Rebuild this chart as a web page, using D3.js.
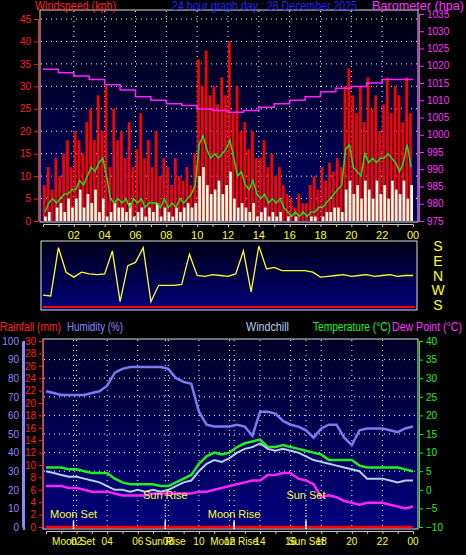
<!DOCTYPE html>
<html><head><meta charset="utf-8">
<script src="https://cdn.jsdelivr.net/npm/d3@7"></script>
<style>body{margin:0;background:#000}svg{display:block;font-family:"Liberation Sans",Arial,sans-serif}</style>
</head><body><div id="chart"></div>
<script>
// ---- data ----
const title = "24 hour graph day : 28 December 2025";
const hourLabels = ["02","04","06","08","10","12","14","16","18","20","22","00"];
// wind, 15-minute steps (96)
const gust = [8,12,7,14, 10,15,18,12, 20,18,15,22, 25,18,28,20, 30,12,25,18, 20,14,22,12,
  16,24,14,18, 12,20,10,14, 12,8,14,10, 9,12,8,15, 36,30,38,28, 30,26,32,28,
  40,24,30,20, 22,16,20,14, 14,18,12,15, 10,12,8,6, 5,3,6,4, 4,8,10,7,
  12,9,13,11, 14,12,30,34, 28,24,30,22, 32,25,28,20, 26,32,24,30, 28,22,32,24];
const windAvg = [2,4,5,4, 5,6,6,7, 7,9,8,10, 12,11,13,14, 10,5,4,5, 4,5,3,5, 4,5,3,4, 4,4,3,5,
  3,4,3,5, 4,5,6,8, 17,19,16,14, 15,14,15,16, 18,14,10,11, 8,7,9,6, 5,6,4,5, 4,5,3,2,
  1,2,1,2, 1,2,2,3, 3,4,5,6, 7,8,16,17, 12,11,10,15, 13,14,13,14, 14,15,14,13, 11,13,17,12];
const windLow = [1,2,0,3, 4,2,5,3, 5,7,3,6, 4,7,2,5, 1,2,4,3, 3,2,4,1, 2,3,1,3, 2,4,1,3,
  2,1,3,2, 3,4,3,4, 10,12,8,6, 7,9,6,8, 11,5,3,4, 3,2,4,1, 2,3,1,2, 1,2,0,1,
  0,1,0,0, 0,1,1,0, 1,2,2,3, 3,2,7,9, 6,8,5,9, 7,5,9,6, 8,5,9,7, 6,9,5,8];
// barometer, hourly (25)
const baro = [1019,1018,1017,1016,1014.5,1013,1011,1010,1009,1008.5,1007.5,1007,1006.5,1007,1008,1009,1010,1011,1012.5,1013.5,1014,1015,1016,1016,1016];
// wind direction bearing, 30-minute steps (49)
const windDir = [240,235,170,20,350,20,10,5,10,150,200,60,80,170,200,300,300,300,305,130,
  0,355,5,0,355,10,150,260,180,40,50,30,30,30,30,20,350,355,0,5,355,0,5,355,0,5,355,0,0];
// 30-minute steps (49)
const humidity = [73,72,71,71,71,71,72,73,76,83,85,86,86,86,86,86,85,80,78,77,62,55,54,54,54,55,54,49,62,62,
  61,57,55,54,52,48,53,55,55,48,44,52,53,53,53,52,51,53,54];
const temperature = [6,6,6,5.5,5.5,5,4.5,4.5,4.5,3,2,1.5,1.5,1.5,1.5,1,1,2,3,4,7,9,10,9.5,10,11.5,12.5,13,13.5,11.5,
  11.5,12,11.5,11,10.5,10,9.5,8,8,8,8,6.5,6,6,6,6,6,5.5,5];
const windchill = [5,4.5,4,3.5,3.5,3,2.5,2,1,0,0,-0.5,0,-0.5,0,-0.5,0,1,2,2.5,5,7,8,7.5,8.5,10,11,11.5,12.5,11,
  10.5,11,10.5,10,9,8,7.5,7,6.5,6,5.5,5,3,3,3,2.5,2,2.5,2.5];
const dewPoint = [1,1,1,0.5,0.5,0,-0.5,-0.5,-0.5,-1,-1.5,-1.5,-1.5,-1.5,-1,-1,-1,-1,-1,-1,-0.5,-0.5,0,0.5,1,1.5,2,2.5,2.5,4,
  4,4.5,4.5,3,2.5,1.5,-2,-1.5,-2,-3,-3.5,-4,-3.5,-3.5,-3.5,-4,-4.5,-5,-4.5];
const rainfall = [0,0];
const events = [{name:"Moon Set",h:1.8,row:1},{name:"Sun Rise",h:7.8,row:0},{name:"Moon Rise",h:12.3,row:1},{name:"Sun Set",h:17,row:0}];

const W = 466, H = 555;
const svg = d3.select("#chart").append("svg").attr("width", W).attr("height", H);
const defs = svg.append("defs");
function grad(id, c1, c2) {
  const g = defs.append("linearGradient").attr("id", id).attr("x1",0).attr("y1",0).attr("x2",0).attr("y2",1);
  g.append("stop").attr("offset","0%").attr("stop-color",c1);
  g.append("stop").attr("offset","100%").attr("stop-color",c2);
}
grad("gTop", "#000010", "#00006a");
grad("gDir", "#000018", "#00007a");
grad("gBot", "#000028", "#00007e");

function txt(x, y, s, col, anchor, size, len) {
  const t = svg.append("text").attr("x", x).attr("y", y).attr("fill", col)
    .attr("text-anchor", anchor || "start").attr("font-size", size || 11).text(s);
  if (len) t.attr("textLength", len).attr("lengthAdjust", "spacingAndGlyphs");
  return t;
}
function dotGrid(g, xs, ys, x0, x1, y0, y1) {
  g.selectAll(null).data(ys).enter().append("line").attr("x1", x0).attr("x2", x1)
    .attr("y1", d => d).attr("y2", d => d).attr("stroke", "#fff").attr("stroke-dasharray", "1,4");
  g.selectAll(null).data(xs).enter().append("line").attr("y1", y0).attr("y2", y1)
    .attr("x1", d => d).attr("x2", d => d).attr("stroke", "#fff").attr("stroke-dasharray", "1,4");
}
function styleAxis(g, col) {
  g.selectAll("path,line").attr("stroke", col);
  g.selectAll("text").attr("fill", col).attr("font-size", 10).attr("font-family", "Liberation Sans, Arial");
}

// ---- top panel: wind + barometer ----
const x = d3.scaleLinear().domain([0, 24]).range([43, 413]);
const yW = d3.scaleLinear().domain([0, 45]).range([221, 19]);
const yB = d3.scaleLinear().domain([975, 1035]).range([221, 14]);
svg.append("rect").attr("x", 40).attr("y", 10).attr("width", 378).attr("height", 212)
  .attr("fill", "url(#gTop)").attr("stroke", "#ddd");
const windG = svg.append("g");
dotGrid(windG, d3.range(2, 24, 2).map(x), d3.range(5, 46, 5).map(yW), 41, 417, 11, 221);
const q = i => i / 4;
const step = x(0.25) - x(0);
windG.selectAll(null).data(gust).enter().append("rect").attr("fill", "#ff0000")
  .attr("x", (d, i) => x(q(i))).attr("width", step * 0.7)
  .attr("y", d => yW(d)).attr("height", d => yW(0) - yW(d));
windG.selectAll(null).data(windLow).enter().append("rect").attr("fill", "#e6ffe6")
  .attr("x", (d, i) => x(q(i)) + step * 0.3).attr("width", step * 0.7)
  .attr("y", d => yW(d)).attr("height", d => yW(0) - yW(d));
windG.append("path").datum(windAvg).attr("fill", "none").attr("stroke", "#22dd22").attr("stroke-width", 1.5)
  .attr("d", d3.line().x((d, i) => x(q(i) + 0.125)).y(d => yW(d)));
windG.append("path").datum(baro).attr("fill", "none").attr("stroke", "#ff22ff").attr("stroke-width", 1.5)
  .attr("d", d3.line().curve(d3.curveStepAfter).x((d, i) => x(i)).y(d => yB(d)));
styleAxis(svg.append("g").attr("transform", "translate(38,0)")
  .call(d3.axisLeft(yW).tickValues(d3.range(0, 46, 5)).tickSize(4)), "#ff2020");
styleAxis(svg.append("g").attr("transform", "translate(419,0)")
  .call(d3.axisRight(yB).tickValues(d3.range(975, 1036, 5)).tickSize(5).tickFormat(d3.format("d"))), "#ff33ff");
styleAxis(svg.append("g").attr("transform", "translate(0,224)")
  .call(d3.axisBottom(x).tickValues(d3.range(1, 24)).tickSize(3).tickFormat("")), "#ccc");
svg.append("g").selectAll(null).data(hourLabels).enter().append("text")
  .attr("x", (d, i) => x(2 + i * 2)).attr("y", 239).attr("text-anchor", "middle")
  .attr("fill", "#ffff33").attr("font-size", 11).text(d => d);
txt(35, 10, "Windspeed (kph)", "#ff2020", "start", 12, 81);
txt(172, 10, title, "#2222ff", "start", 12, 185);
txt(372, 10, "Barometer (hpa)", "#ff33ff", "start", 12, 92);

// ---- wind direction panel ----
const yD = d3.scaleLinear().domain([0, 360]).range([246, 305]);
svg.append("rect").attr("x", 41).attr("y", 241).attr("width", 376).attr("height", 69)
  .attr("fill", "url(#gDir)").attr("stroke", "#ddd");
svg.append("path").datum(windDir).attr("fill", "none").attr("stroke", "#ffff22").attr("stroke-width", 1.3)
  .attr("d", d3.line().x((d, i) => x(i / 2)).y(d => yD((180 - d + 360) % 360)));
svg.append("line").attr("x1", 43).attr("x2", 415).attr("y1", 307).attr("y2", 307).attr("stroke", "#ff0000").attr("stroke-width", 2);
["S","E","N","W","S"].forEach((s, i) => txt(438, yD(i * 90) + 5, s, "#ffff33", "middle", 14));

// ---- bottom panel ----
const xb = d3.scaleLinear().domain([0, 24]).range([46, 413]);
const yH = d3.scaleLinear().domain([0, 100]).range([527, 341]);
const yR = d3.scaleLinear().domain([0, 30]).range([527, 341]);
const yT = d3.scaleLinear().domain([-10, 40]).range([527, 341]);
svg.append("rect").attr("x", 43).attr("y", 339).attr("width", 375).attr("height", 190)
  .attr("fill", "url(#gBot)").attr("stroke", "#ddd");
const bot = svg.append("g");
dotGrid(bot, d3.range(2, 24, 2).map(xb).concat(events.map(e => xb(e.h))), d3.range(5, 40, 5).map(yT), 44, 417, 340, 527);
const half = (d, i) => xb(i / 2);
function line(data, col, w) {
  bot.append("path").datum(data).attr("fill", "none").attr("stroke", col).attr("stroke-width", w)
    .attr("d", d3.line().x(half).y(d => yT(d)));
}
bot.append("path").datum(humidity).attr("fill", "none").attr("stroke", "#7b7bf0").attr("stroke-width", 2.5)
  .attr("d", d3.line().x(half).y(d => yH(d)));
line(temperature, "#22ee22", 2.5);
line(windchill, "#b8cff0", 2);
line(dewPoint, "#ff22ff", 2.5);
bot.append("path").datum(rainfall).attr("fill", "none").attr("stroke", "#ff0000").attr("stroke-width", 2.5)
  .attr("d", d3.line().x((d, i) => xb(i * 24)).y(d => yR(d)));
events.forEach(e => {
  const ex = xb(e.h);
  const ly = e.row ? 520 : 501;
  bot.append("line").attr("x1", ex).attr("x2", ex).attr("y1", ly + 3).attr("y2", 527)
    .attr("stroke", e.row ? "#fff" : "#ffff66").attr("stroke-dasharray", e.row ? null : "1,2");
  bot.append("line").attr("x1", ex).attr("x2", ex).attr("y1", 521).attr("y2", 529).attr("stroke", "#fff").attr("stroke-width", 1.5);
  txt(ex, ly - 2, e.name, "#ffff33", "middle", 11);
  txt(ex, 545, e.name, "#ffff33", "middle", 10);
});
styleAxis(svg.append("g").attr("transform", "translate(22,0)")
  .call(d3.axisLeft(yH).tickValues(d3.range(0, 101, 10)).tickSize(0)), "#8888ff");
svg.append("line").attr("x1", 24).attr("x2", 24).attr("y1", 341).attr("y2", 530).attr("stroke", "#8888ff").attr("stroke-width", 2);
styleAxis(svg.append("g").attr("transform", "translate(42,0)")
  .call(d3.axisLeft(yR).tickValues(d3.range(0, 31, 2)).tickSize(3)), "#ff2020");
styleAxis(svg.append("g").attr("transform", "translate(419,0)")
  .call(d3.axisRight(yT).tickValues(d3.range(-10, 41, 5)).tickSize(4)), "#22ee22");
styleAxis(svg.append("g").attr("transform", "translate(0,531)")
  .call(d3.axisBottom(xb).tickValues(d3.range(1, 24)).tickSize(3).tickFormat("")), "#ccc");
svg.append("g").selectAll(null).data(hourLabels).enter().append("text")
  .attr("x", (d, i) => xb(2 + i * 2)).attr("y", 545).attr("text-anchor", "middle")
  .attr("fill", "#ffff33").attr("font-size", 10).text(d => d);
txt(0, 331, "Rainfall (mm)", "#ff2020", "start", 12, 61);
txt(67, 331, "Humidity (%)", "#8888ff", "start", 12, 56);
txt(246, 331, "Windchill", "#b8cff0", "start", 12, 43);
txt(313, 331, "Temperature (°C)", "#22ee22", "start", 12, 78);
txt(392, 331, "Dew Point (°C)", "#ff33ff", "start", 12, 70);
</script></body></html>
